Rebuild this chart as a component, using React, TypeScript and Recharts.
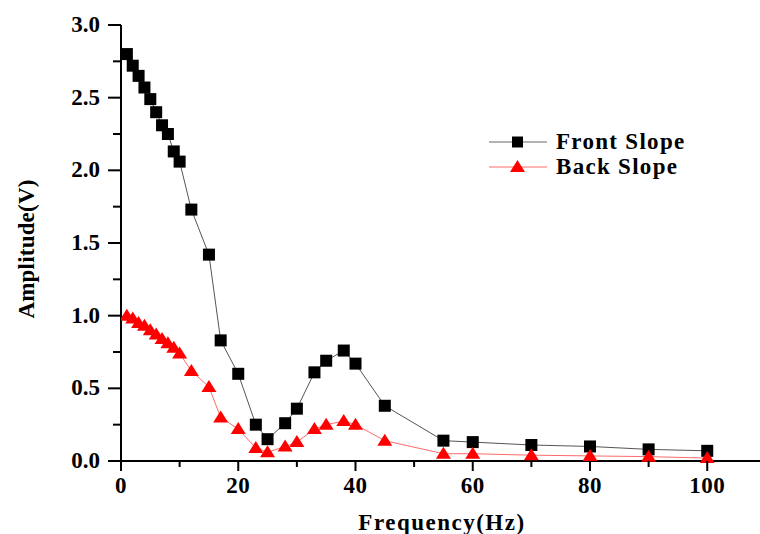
import React from "react";
import { LineChart, Line, XAxis, YAxis, Legend, Label } from "recharts";

const frequencies = [1, 2, 3, 4, 5, 6, 7, 8, 9, 10, 12, 15, 17, 20, 23, 25, 28, 30, 33, 35, 38, 40, 45, 55, 60, 70, 80, 90, 100];
const frontSlope = [2.8, 2.72, 2.65, 2.57, 2.49, 2.4, 2.31, 2.25, 2.13, 2.06, 1.73, 1.42, 0.83, 0.6, 0.25, 0.15, 0.26, 0.36, 0.61, 0.69, 0.76, 0.67, 0.38, 0.14, 0.13, 0.11, 0.1, 0.08, 0.07];
const backSlope = [1.0, 0.98, 0.95, 0.93, 0.9, 0.87, 0.84, 0.81, 0.78, 0.74, 0.62, 0.51, 0.3, 0.22, 0.09, 0.06, 0.1, 0.13, 0.22, 0.25, 0.275, 0.25, 0.14, 0.05, 0.05, 0.04, 0.035, 0.03, 0.02];
const xTicks = [0, 10, 20, 30, 40, 50, 60, 70, 80, 90, 100];
const yTicks = [0, 0.25, 0.5, 0.75, 1, 1.25, 1.5, 1.75, 2, 2.25, 2.5, 2.75, 3];

const data = frequencies.map((f, i) => ({ x: f, front: frontSlope[i], back: backSlope[i] }));

const FONT = "Liberation Serif";
const textStyle: React.CSSProperties = { fontFamily: FONT, fontWeight: 700 };

const SquareDot = (props: any) => {
  const { cx, cy } = props;
  if (cx == null || cy == null) return null;
  return <rect key={props.key} x={cx - 6} y={cy - 6} width={12} height={12} fill="#000" />;
};

const TriangleDot = (props: any) => {
  const { cx, cy } = props;
  if (cx == null || cy == null) return null;
  return (
    <polygon
      key={props.key}
      points={`${cx},${cy - 7} ${cx - 7.5},${cy + 5} ${cx + 7.5},${cy + 5}`}
      fill="#ff0000"
    />
  );
};

const XTick = (props: any) => {
  const { x, y, payload } = props;
  const v = payload.value;
  const major = v % 20 === 0;
  return (
    <g>
      <line x1={x} x2={x} y1={y} y2={y + (major ? 10 : 6)} stroke="#000" strokeWidth={2} />
      {major && (
        <text x={x} y={y + 32} textAnchor="middle" style={{ ...textStyle, fontSize: 23, letterSpacing: 0.5 }} fill="#000">
          {v}
        </text>
      )}
    </g>
  );
};

const YTick = (props: any) => {
  const { x, y, payload } = props;
  const v = payload.value;
  const major = Math.abs(v * 2 - Math.round(v * 2)) < 1e-6;
  return (
    <g>
      <line x1={x - (major ? 13 : 8)} x2={x} y1={y} y2={y} stroke="#000" strokeWidth={2} />
      {major && (
        <text x={x - 21} y={y + 7} textAnchor="end" style={{ ...textStyle, fontSize: 23 }} fill="#000">
          {v.toFixed(1)}
        </text>
      )}
    </g>
  );
};

const LegendContent = () => (
  <div style={{ ...textStyle, fontSize: 23, color: "#000", letterSpacing: 1.3 }}>
    <div style={{ display: "flex", alignItems: "center", height: 25 }}>
      <svg width={60} height={20} style={{ marginRight: 7 }}>
        <line x1={0} x2={58} y1={10} y2={10} stroke="#666" strokeWidth={1} />
        <rect x={23} y={4.5} width={11} height={11} fill="#000" />
      </svg>
      <span>Front Slope</span>
    </div>
    <div style={{ display: "flex", alignItems: "center", height: 25 }}>
      <svg width={60} height={20} style={{ marginRight: 7 }}>
        <line x1={0} x2={58} y1={10} y2={10} stroke="#ff6a6a" strokeWidth={1} />
        <polygon points="28.5,3 21,15 36,15" fill="#ff0000" />
      </svg>
      <span>Back Slope</span>
    </div>
  </div>
);

export default function App() {
  return (
    <div style={{ position: "absolute", left: 0, top: 0, width: 760, height: 534, background: "#fff" }}>
      <LineChart width={760} height={534} data={data} margin={{ top: 25, right: 0, bottom: 0, left: 0 }}>
        <XAxis
          type="number"
          dataKey="x"
          domain={[0, 109]}
          ticks={xTicks}
          interval={0}
          allowDataOverflow
          height={73}
          tickSize={0}
          tickMargin={0}
          tickLine={false}
          tick={<XTick />}
          axisLine={{ stroke: "#000", strokeWidth: 2 }}
        >
          <Label
            content={(p: any) => {
              const vb = p.viewBox || { x: 121, y: 461, width: 639, height: 73 };
              return (
                <text
                  x={442}
                  y={vb.y + vb.height - 4}
                  textAnchor="middle"
                  style={{ ...textStyle, fontSize: 23, letterSpacing: 1.5 }}
                  fill="#000"
                >
                  Frequency(Hz)
                </text>
              );
            }}
          />
        </XAxis>
        <YAxis
          type="number"
          domain={[0, 3]}
          ticks={yTicks}
          interval={0}
          width={121}
          tickSize={0}
          tickMargin={0}
          tickLine={false}
          tick={<YTick />}
          axisLine={{ stroke: "#000", strokeWidth: 2 }}
        >
          <Label
            content={(p: any) => {
              const vb = p.viewBox || { x: 0, y: 25, width: 121, height: 436 };
              const cx = vb.x + 26;
              const cy = vb.y + vb.height / 2 + 6;
              return (
                <text
                  x={cx}
                  y={cy}
                  transform={`rotate(-90, ${cx}, ${cy})`}
                  textAnchor="middle"
                  dominantBaseline="central"
                  style={{ ...textStyle, fontSize: 23, letterSpacing: 0.2 }}
                  fill="#000"
                >
                  Amplitude(V)
                </text>
              );
            }}
          />
        </YAxis>
        <Legend
          layout="vertical"
          align="center"
          verticalAlign="middle"
          content={<LegendContent />}
          wrapperStyle={{ position: "absolute", left: 489, top: 129, width: "auto" }}
        />
        <Line
          dataKey="front"
          name="Front Slope"
          stroke="#555"
          strokeWidth={1}
          dot={SquareDot}
          activeDot={false}
          isAnimationActive={false}
        />
        <Line
          dataKey="back"
          name="Back Slope"
          stroke="#ff6a6a"
          strokeWidth={1}
          dot={TriangleDot}
          activeDot={false}
          isAnimationActive={false}
        />
      </LineChart>
    </div>
  );
}
